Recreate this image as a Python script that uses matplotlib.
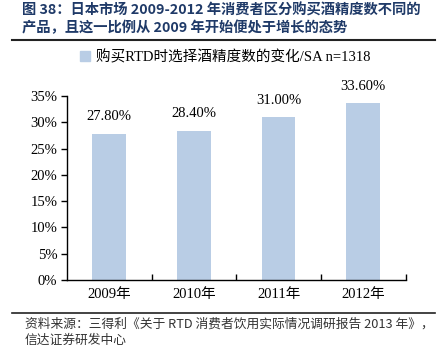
import matplotlib
matplotlib.use("Agg")
import matplotlib.pyplot as plt
from matplotlib.lines import Line2D

years = ["2009年", "2010年", "2011年", "2012年"]
share = [27.8, 28.4, 31.0, 33.6]
yticks = [0, 5, 10, 15, 20, 25, 30, 35]
series_name = "购买RTD时选择酒精度数的变化/SA n=1318"
title_lines = ["图 38：日本市场 2009-2012 年消费者区分购买酒精度数不同的",
               "产品，且这一比例从 2009 年开始便处于增长的态势"]
source_lines = ["资料来源：三得利《关于 RTD 消费者饮用实际情况调研报告 2013 年》，",
                "信达证券研发中心"]

serif = ["Liberation Serif", "Noto Sans CJK SC"]
sans = ["Noto Sans CJK SC", "DejaVu Sans"]
bar_color = "#b9cde5"
navy = "#1f3a68"

fig = plt.figure(figsize=(4.38, 3.45), dpi=100)
ax = fig.add_axes([67 / 438, 65 / 345, 338.5 / 438, 184 / 345])

x = range(len(years))
ax.bar(x, share, width=0.4, color=bar_color, zorder=2)
for xi, v in zip(x, share):
    ax.annotate("%.2f%%" % v, (xi, v), xytext=(0, 17), textcoords="offset pixels",
                ha="center", va="center", fontsize=10.5, family=serif,
                annotation_clip=False)

ax.set_xlim(-0.5, len(years) - 0.5)
ax.set_ylim(0, 35)
ax.set_yticks(yticks)
ax.set_yticklabels(["%d%%" % t for t in yticks], family=serif, fontsize=10.5)
ax.set_xticks(list(x))
ax.set_xticklabels(years, family=serif, fontsize=10.5)
ax.tick_params(axis="x", length=0, pad=6)
ax.tick_params(axis="y", direction="out", length=4, width=1, pad=3)
# small separators between categories on the baseline
ax.set_xticks([i + 0.5 for i in x], minor=True)
ax.tick_params(axis="x", which="minor", direction="in", length=4, width=1)
for s in ["top", "right"]:
    ax.spines[s].set_visible(False)
for s in ["left", "bottom"]:
    ax.spines[s].set_linewidth(1)

# legend above the plot
fig.legend(handles=[Line2D([], [], marker="s", ls="", color=bar_color, markersize=6.5)],
           labels=[series_name], loc="center", bbox_to_anchor=(224 / 438, 1 - 57 / 345),
           frameon=False, prop={"family": serif, "size": 10.5},
           handletextpad=0.3, handlelength=1.0)

# heading and source notes
fig.text(22 / 438, 1 - 11 / 345, title_lines[0], family=sans, fontweight="bold",
         fontsize=10.3, color=navy, va="center")
fig.text(22 / 438, 1 - 28 / 345, title_lines[1], family=sans, fontweight="bold",
         fontsize=10.3, color=navy, va="center")
fig.add_artist(Line2D([12 / 438, 435 / 438], [1 - 39.5 / 345] * 2, color="#222222", lw=1.5))
fig.add_artist(Line2D([12 / 438, 435 / 438], [1 - 313 / 345] * 2, color="#222222", lw=1.2))
fig.text(25 / 438, 1 - 324 / 345, source_lines[0], family=sans, style="italic",
         fontsize=9.2, color="#333333", va="center")
fig.text(25 / 438, 1 - 340 / 345, source_lines[1], family=sans, style="italic",
         fontsize=9.2, color="#333333", va="center")

fig.savefig("out.png", dpi=100)
